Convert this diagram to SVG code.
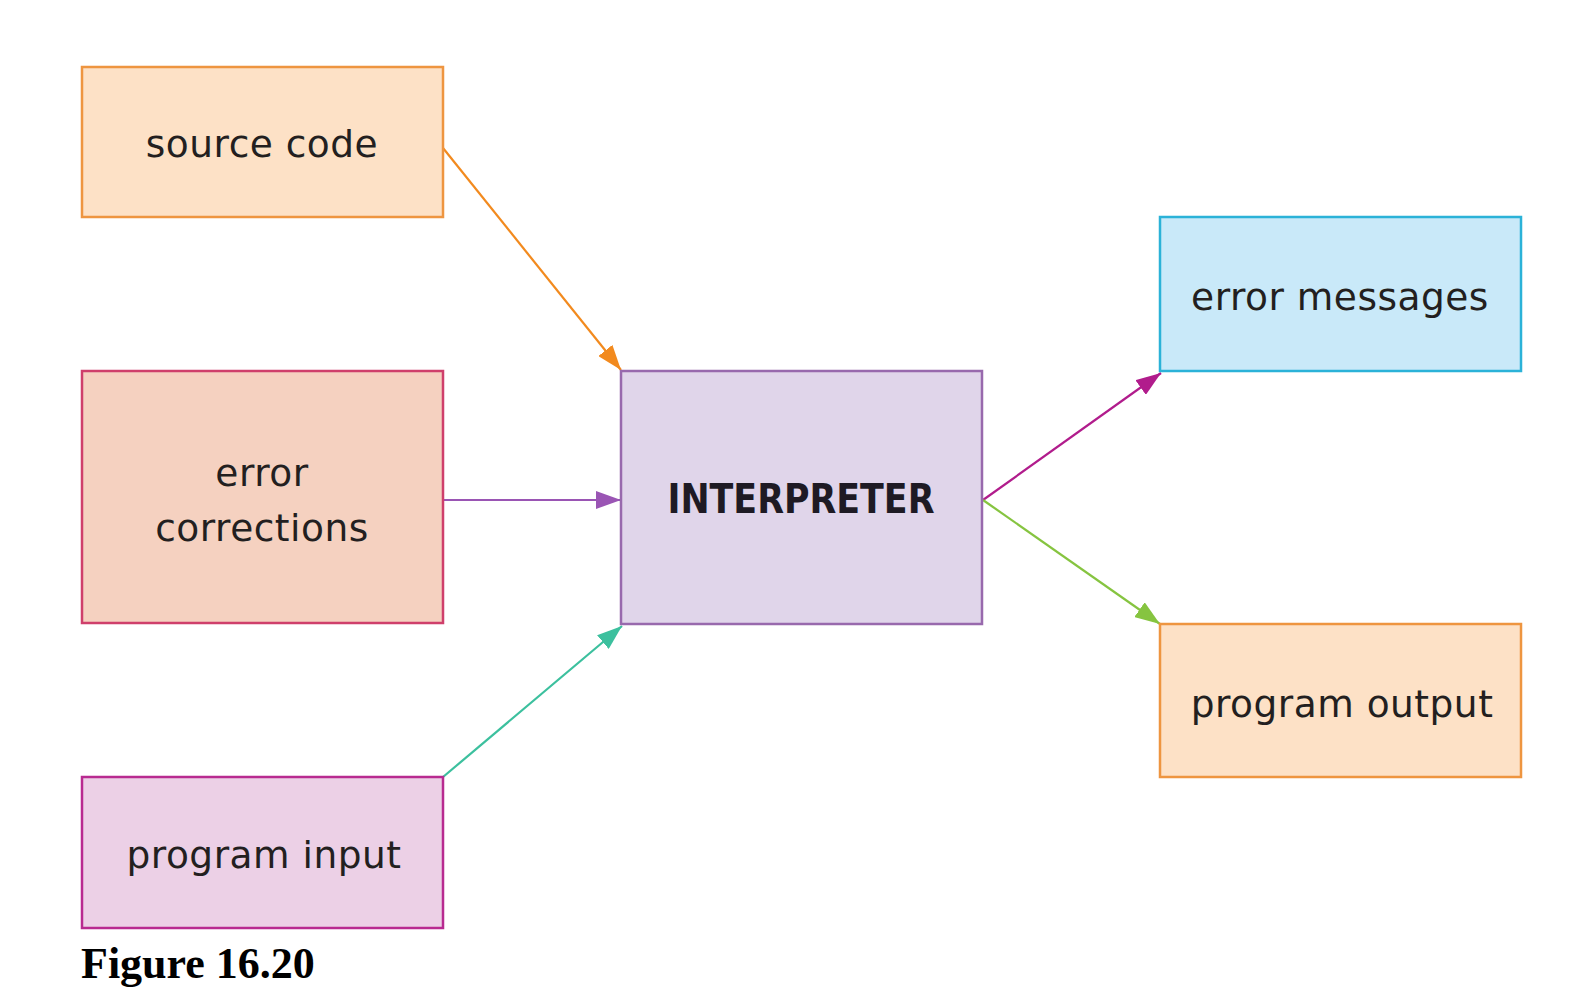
<svg xmlns="http://www.w3.org/2000/svg" width="1591" height="1000" viewBox="0 0 1591 1000">
<style>
.lbl{font-family:"DejaVu Sans","Liberation Sans",sans-serif;font-size:37.5px;letter-spacing:0.5px;fill:#231f20;text-anchor:middle}
.box{stroke-width:2.5}
.con{fill:none;stroke-width:2.2}
.title{font-family:"DejaVu Sans Condensed","DejaVu Sans",sans-serif;font-weight:bold;font-size:41px;fill:#1e1a24;text-anchor:middle}
.fig{font-family:"Liberation Serif","Times New Roman",serif;font-weight:bold;font-size:44px;fill:#000}
</style>
<defs>
<marker id="aOrange" markerUnits="userSpaceOnUse" markerWidth="26" markerHeight="18" refX="25" refY="9" orient="auto"><path d="M0,0 L25,9 L0,18 z" fill="#f28a1e"/></marker>
<marker id="aPurple" markerUnits="userSpaceOnUse" markerWidth="26" markerHeight="18" refX="25" refY="9" orient="auto"><path d="M0,0 L25,9 L0,18 z" fill="#9a55b4"/></marker>
<marker id="aTeal" markerUnits="userSpaceOnUse" markerWidth="26" markerHeight="18" refX="25" refY="9" orient="auto"><path d="M0,0 L25,9 L0,18 z" fill="#3cc09e"/></marker>
<marker id="aMagenta" markerUnits="userSpaceOnUse" markerWidth="26" markerHeight="18" refX="25" refY="9" orient="auto"><path d="M0,0 L25,9 L0,18 z" fill="#b11c8c"/></marker>
<marker id="aGreen" markerUnits="userSpaceOnUse" markerWidth="26" markerHeight="18" refX="25" refY="9" orient="auto"><path d="M0,0 L25,9 L0,18 z" fill="#86c440"/></marker>
</defs>
<rect width="1591" height="1000" fill="#ffffff"/>
<g id="connectors">
<line class="con" x1="443" y1="148" x2="621" y2="370" stroke="#f28a1e" marker-end="url(#aOrange)"/>
<line class="con" x1="443" y1="500" x2="621" y2="500" stroke="#9a55b4" marker-end="url(#aPurple)"/>
<line class="con" x1="443" y1="777" x2="622" y2="626" stroke="#3cc09e" marker-end="url(#aTeal)"/>
<line class="con" x1="983" y1="500" x2="1161" y2="373" stroke="#b11c8c" marker-end="url(#aMagenta)"/>
<line class="con" x1="983" y1="500" x2="1160" y2="624" stroke="#86c440" marker-end="url(#aGreen)"/>
</g>
<g id="source-code">
<rect class="box" x="82" y="67" width="361" height="150" fill="#fde1c6" stroke="#ee9540"/>
<text class="lbl" x="262" y="157">source code</text>
</g>
<g id="error-corrections">
<rect class="box" x="82" y="371" width="361" height="252" fill="#f5d1c0" stroke="#cf3f6b"/>
<text class="lbl" x="262" y="486">error</text>
<text class="lbl" x="262" y="541">corrections</text>
</g>
<g id="program-input">
<rect class="box" x="82" y="777" width="361" height="151" fill="#ecd0e6" stroke="#b82a90"/>
<text class="lbl" x="264" y="868">program input</text>
</g>
<g id="interpreter">
<rect class="box" x="621" y="371" width="361" height="253" fill="#e0d5ea" stroke="#9869ad"/>
<text class="title" x="801" y="513" textLength="267" lengthAdjust="spacingAndGlyphs">INTERPRETER</text>
</g>
<g id="error-messages">
<rect class="box" x="1160" y="217" width="361" height="154" fill="#c9e9f9" stroke="#2bb2d8"/>
<text class="lbl" x="1340" y="310">error messages</text>
</g>
<g id="program-output">
<rect class="box" x="1160" y="624" width="361" height="153" fill="#fde1c6" stroke="#ee9540"/>
<text class="lbl" x="1342" y="717">program output</text>
</g>
<text class="fig" x="81" y="978">Figure 16.20</text>
</svg>
